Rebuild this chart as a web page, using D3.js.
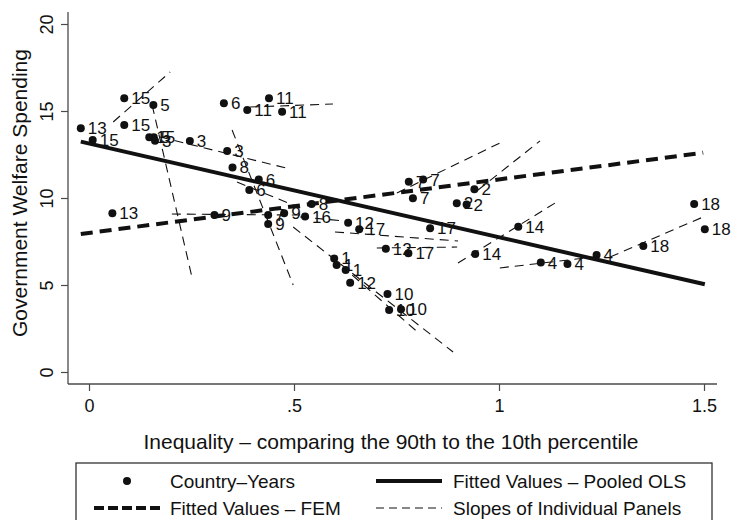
<!DOCTYPE html>
<html><head><meta charset="utf-8">
<script src="https://cdn.jsdelivr.net/npm/d3@7"></script>
<style>
html,body{margin:0;padding:0;background:#fff;}
svg{display:block;font-family:"Liberation Sans",Arial,Helvetica,sans-serif;}
</style></head><body>
<svg id="chart" width="733" height="520"></svg>
<script>
// Country-year observations (country id, inequality, welfare spending)
const countryIds = [15,5,13,15,15,15,5,3,3,3,6,11,11,11,8,6,6,13,9,7,9,9,16,8,12,17,17,12,17,7,7,7,2,2,2,14,14,1,1,1,12,10,10,10,4,4,4,18,18,18];
const inequality = [0.086,0.157,-0.020,0.086,0.009,0.147,0.158,0.161,0.246,0.337,0.329,0.386,0.439,0.471,0.350,0.414,0.391,0.057,0.306,0.437,0.437,0.476,0.527,0.543,0.632,0.659,0.832,0.724,0.779,0.780,0.815,0.790,0.897,0.921,0.940,0.942,1.047,0.598,0.604,0.626,0.637,0.728,0.732,0.761,1.102,1.167,1.238,1.352,1.476,1.502];
const welfare = [15.73,15.34,14.01,14.20,13.33,13.49,13.49,13.29,13.28,12.70,15.44,15.06,15.73,14.96,11.76,11.07,10.46,9.12,9.02,9.02,8.51,9.12,8.93,9.66,8.58,8.20,8.26,7.09,6.82,10.94,11.07,9.98,9.70,9.62,10.50,6.78,8.35,6.53,6.15,5.86,5.13,4.48,3.56,3.60,6.30,6.21,6.72,7.24,9.66,8.20];

// Within-panel fitted slopes, one segment per country
const panelIds = [15,5,3,6,11,9,16,8,1,10,17,12,7,2,14,4,18];
const panelX0 = [0.059,0.154,0.173,0.349,0.393,0.202,0.515,0.361,0.498,0.642,0.600,0.702,0.751,0.949,0.900,1.002,1.271];
const panelY0 = [14.37,15.34,13.51,13.91,15.23,9.08,8.91,10.92,8.33,5.57,8.05,7.13,10.29,10.46,6.26,5.98,6.61];
const panelX1 = [0.198,0.251,0.490,0.498,0.595,0.515,0.624,0.515,0.888,0.807,0.900,0.898,1.002,1.100,1.149,1.254,1.498];
const panelY1 = [17.24,5.46,11.67,5.00,15.40,9.02,8.68,9.43,1.15,2.18,7.53,7.18,13.16,13.28,9.89,6.67,8.91];

// Pooled OLS and fixed-effects fitted lines
const olsX = [-0.02, 1.502];
const olsY = [13.24, 5.04];
const femX = [-0.02, 1.498];
const femY = [7.93, 12.60];

const xTicks = [0, 0.5, 1, 1.5];
const xTickLabels = ["0", ".5", "1", "1.5"];
const yTicks = [0, 5, 10, 15, 20];
const yTickLabels = ["0", "5", "10", "15", "20"];

const xTitle = "Inequality \u2013 comparing the 90th to the 10th percentile";
const yTitle = "Government Welfare Spending";
const legendLabels = ["Country\u2013Years", "Fitted Values \u2013 Pooled OLS", "Fitted Values \u2013 FEM", "Slopes of Individual Panels"];

const svg = d3.select("#chart");
const x = d3.scaleLinear().domain([0, 1.5]).range([89, 704]);
const y = d3.scaleLinear().domain([0, 20]).range([372, 24]);
const axisColor = "#4a4a4a";
const ink = "#111";

// axes
const xAxis = svg.append("g").attr("transform", "translate(0,384)")
  .call(d3.axisBottom(x).tickValues(xTicks).tickFormat((d, i) => xTickLabels[i]).tickSize(7).tickSizeOuter(0).tickPadding(8));
xAxis.select(".domain").remove();
xAxis.selectAll("line").attr("stroke", axisColor).attr("stroke-width", 1.2);
xAxis.selectAll("text").attr("font-size", 18).attr("fill", ink).attr("font-family", null);

const yAxis = svg.append("g").attr("transform", "translate(68,0)")
  .call(d3.axisLeft(y).tickValues(yTicks).tickFormat((d, i) => yTickLabels[i]).tickSize(7).tickSizeOuter(0));
yAxis.select(".domain").remove();
yAxis.selectAll("line").attr("stroke", axisColor).attr("stroke-width", 1.2);
yAxis.selectAll("text")
  .attr("font-size", 18).attr("fill", ink).attr("font-family", null)
  .attr("text-anchor", "middle").attr("x", null).attr("dy", null)
  .attr("transform", "translate(-15,0) rotate(-90)");

svg.append("line").attr("x1", 68).attr("x2", 717).attr("y1", 384).attr("y2", 384)
  .attr("stroke", axisColor).attr("stroke-width", 1.3);
svg.append("line").attr("x1", 68).attr("x2", 68).attr("y1", 12).attr("y2", 384)
  .attr("stroke", axisColor).attr("stroke-width", 1.3);

svg.append("text").attr("x", 391).attr("y", 449).attr("text-anchor", "middle")
  .attr("font-size", 21).attr("fill", ink).text(xTitle);
svg.append("text").attr("transform", "translate(27,193) rotate(-90)").attr("text-anchor", "middle")
  .attr("font-size", 21).attr("fill", ink).text(yTitle);

// observations with country labels
const pts = countryIds.map((c, i) => ({c, x: inequality[i], y: welfare[i]}));
const gp = svg.append("g");
gp.selectAll("circle").data(pts).join("circle")
  .attr("cx", d => x(d.x)).attr("cy", d => y(d.y)).attr("r", 4).attr("fill", ink);
gp.selectAll("text").data(pts).join("text")
  .attr("x", d => x(d.x) + 7).attr("y", d => y(d.y)).attr("dy", "0.36em")
  .attr("font-size", 17).attr("fill", ink).text(d => d.c);

// individual panel slopes
svg.append("g").selectAll("line").data(panelIds).join("line")
  .attr("x1", (d, i) => x(panelX0[i])).attr("y1", (d, i) => y(panelY0[i]))
  .attr("x2", (d, i) => x(panelX1[i])).attr("y2", (d, i) => y(panelY1[i]))
  .attr("stroke", ink).attr("stroke-width", 1.1).attr("stroke-dasharray", "9,6");

// pooled OLS fit
svg.append("line")
  .attr("x1", x(olsX[0])).attr("y1", y(olsY[0])).attr("x2", x(olsX[1])).attr("y2", y(olsY[1]))
  .attr("stroke", ink).attr("stroke-width", 4);
// fixed-effects fit
svg.append("line")
  .attr("x1", x(femX[0])).attr("y1", y(femY[0])).attr("x2", x(femX[1])).attr("y2", y(femY[1]))
  .attr("stroke", ink).attr("stroke-width", 4).attr("stroke-dasharray", "12,7");

// legend
const lg = svg.append("g");
lg.append("rect").attr("x", 76).attr("y", 463).attr("width", 636).attr("height", 80)
  .attr("fill", "none").attr("stroke", "#333").attr("stroke-width", 1.3);
const rows = [481, 508];
const keyCols = [[94, 160], [376, 442]];
const textCols = [170, 453];
lg.append("circle").attr("cx", (keyCols[0][0] + keyCols[0][1]) / 2).attr("cy", rows[0]).attr("r", 4).attr("fill", ink);
lg.append("line").attr("x1", keyCols[1][0]).attr("x2", keyCols[1][1]).attr("y1", rows[0]).attr("y2", rows[0])
  .attr("stroke", ink).attr("stroke-width", 4);
lg.append("line").attr("x1", keyCols[0][0]).attr("x2", keyCols[0][1]).attr("y1", rows[1]).attr("y2", rows[1])
  .attr("stroke", ink).attr("stroke-width", 4).attr("stroke-dasharray", "10,4");
lg.append("line").attr("x1", keyCols[1][0]).attr("x2", keyCols[1][1]).attr("y1", rows[1]).attr("y2", rows[1])
  .attr("stroke", ink).attr("stroke-width", 1.1).attr("stroke-dasharray", "8,5");
legendLabels.forEach((t, i) => {
  lg.append("text").attr("x", textCols[i % 2]).attr("y", rows[Math.floor(i / 2)]).attr("dy", "0.36em")
    .attr("font-size", 19).attr("fill", ink).text(t);
});
</script>
</body></html>
